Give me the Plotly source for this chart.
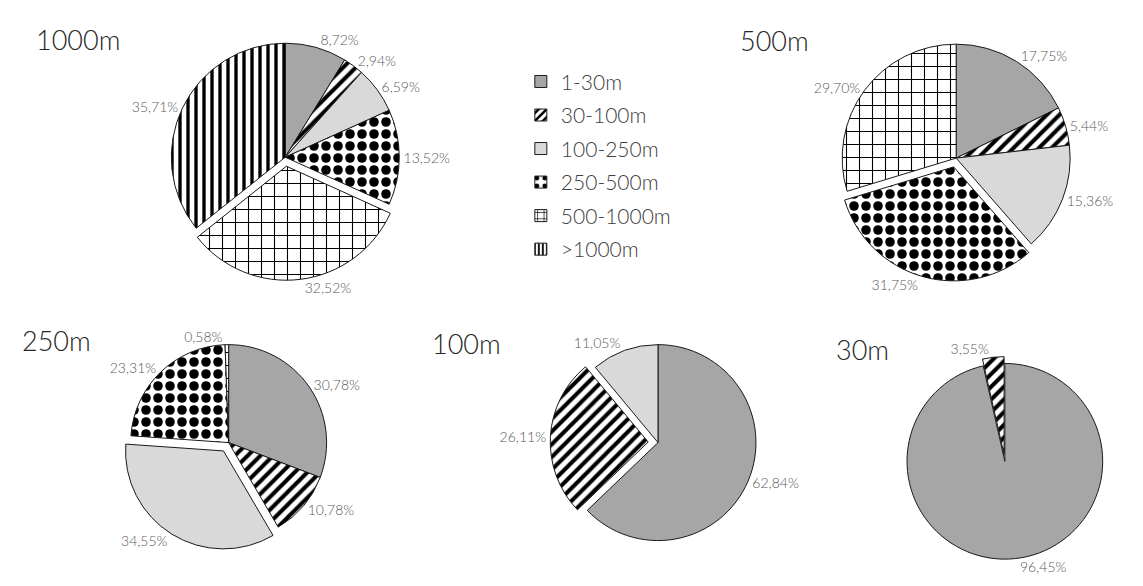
import plotly.graph_objects as go

categories = ["1-30m", "30-100m", "100-250m", "250-500m", "500-1000m", ">1000m"]

pie_titles = ["1000m", "500m", "250m", "100m", "30m"]
values_1000 = [8.72, 2.94, 6.59, 13.52, 32.52, 35.71]
values_500 = [17.75, 5.44, 15.36, 31.75, 29.70]
values_250 = [30.78, 10.78, 34.55, 23.31, 0.58]
values_100 = [62.84, 26.11, 11.05]
values_30 = [96.45, 3.55]
all_values = [values_1000, values_500, values_250, values_100, values_30]
pulled_index = [4, 3, 2, 1, 1]

# style per category
fill_colors = ["#a6a6a6", "white", "#d9d9d9", "white", "white", "white"]
pattern_shapes = ["", "/", "", ".", "+", "|"]
pattern_sizes = [8, 9, 8, 12, 13, 8]
pattern_solidity = [0.3, 0.45, 0.3, 0.5, 0.16, 0.42]
legend_pattern_sizes = [8, 7, 8, 14, 8, 5]
legend_pattern_solidity = [0.3, 0.45, 0.3, 0.3, 0.2, 0.45]

# layout: (center_x_px, center_y_px, radius_px, pull)
W, H = 1143, 586
geom = [(279, 152, 121, 0.08), (954, 153, 121, 0.08), (222, 455, 104, 0.1),
        (654, 455, 104, 0.1), (1003, 475, 104, 0.07)]
title_pos = [(26, 27), (735, 28), (12, 347), (425, 350), (831, 356)]

FONT = "Lato"
fig = go.Figure()


def clip(v):
    return min(1.0, max(0.0, v))


for vals, pidx, (cx, cy, r, p) in zip(all_values, pulled_index, geom):
    n = len(vals)
    s = r * (2 + 2 * p)
    cyb = H - cy
    text = [f"{v:.2f}".replace(".", ",") + "%" for v in vals]
    fig.add_trace(go.Pie(
        labels=categories[:n], values=vals, text=text, textinfo="text",
        textposition="outside", sort=False, direction="clockwise", rotation=0,
        pull=[p if i == pidx else 0 for i in range(n)],
        marker=dict(colors=fill_colors[:n],
                    line=dict(color="#1a1a1a", width=1),
                    pattern=dict(shape=pattern_shapes[:n], fgcolor="black",
                                 bgcolor=fill_colors[:n], size=pattern_sizes[:n],
                                 solidity=pattern_solidity[:n], fillmode="replace")),
        textfont=dict(family=FONT, size=14, color="#595959", weight=300),
        domain=dict(x=[clip((cx - s / 2) / W), clip((cx + s / 2) / W)],
                    y=[clip((cyb - s / 2) / H), clip((cyb + s / 2) / H)]),
        showlegend=False, hoverinfo="label+text",
    ))

# legend entries (one legend per category for the spacing of the original)
leg_top = 72
leg_step = 35.6
for i, cat in enumerate(categories):
    lname = "legend" if i == 0 else f"legend{i + 1}"
    fig.add_trace(go.Bar(
        x=[None], y=[None], name=cat, legend=lname, showlegend=True,
        marker=dict(color=fill_colors[i], line=dict(color="#1a1a1a", width=1),
                    pattern=dict(shape=pattern_shapes[i], fgcolor="black",
                                 bgcolor=fill_colors[i], size=legend_pattern_sizes[i],
                                 solidity=legend_pattern_solidity[i], fillmode="replace")),
    ))
    fig.update_layout({lname: dict(
        x=516 / W, y=1 - (leg_top + i * leg_step) / H, xanchor="left", yanchor="middle",
        bgcolor="rgba(0,0,0,0)", font=dict(family=FONT, size=21, color="#404040", weight=300),
    )})

for t, (tx, ty) in zip(pie_titles, title_pos):
    fig.add_annotation(text=t, x=tx / W, y=1 - ty / H, xref="paper", yref="paper",
                       xanchor="left", yanchor="middle", showarrow=False,
                       font=dict(family=FONT, size=27, color="#262626", weight=300))

fig.update_layout(
    width=W, height=H, margin=dict(l=0, r=0, t=0, b=0),
    paper_bgcolor="white", plot_bgcolor="white",
    xaxis=dict(visible=False), yaxis=dict(visible=False),
)

fig.write_html("out.html")
